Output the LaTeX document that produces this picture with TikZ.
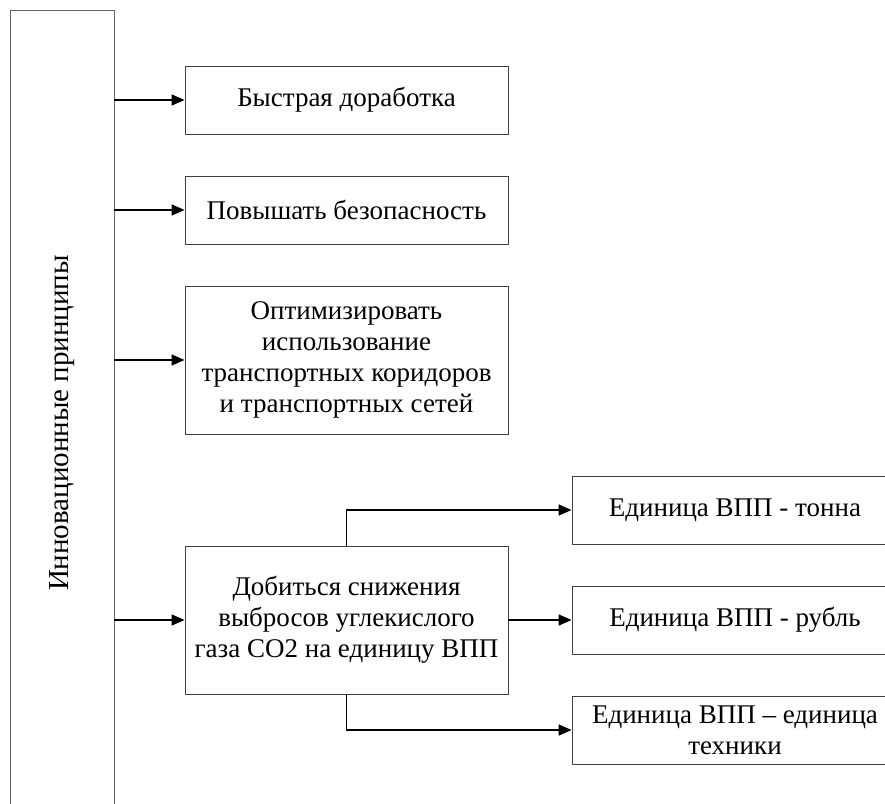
\documentclass[tikz,border=0pt]{standalone}
\usepackage{fontspec}
\setmainfont{Liberation Serif}
\usetikzlibrary{arrows.meta,positioning}

\begin{document}
\begin{tikzpicture}[
          % Environment Config
          x=1pt, y=-1pt,
          font=\fontsize{27}{31}\selectfont,
          MyArrow/.style={% Style for the connectors
            -{Triangle[length=13pt,width=11pt]},
            black,
            line width=1.5pt
          },
          Box/.style={% Style for the principle boxes
            draw=black!75,
            line width=0.9pt,
            rectangle,
            align=center,
            minimum width=323pt,
            minimum height=68pt,
            inner sep=0pt
          },
          RBox/.style={% Style for the unit boxes
            Box,
            minimum width=326pt
          }
        ]

        % Fix the picture size
        \clip (0,0) rectangle (885,803);

        % Principles column
        \node[draw=black!60, line width=0.9pt, minimum width=826pt, minimum height=104pt,
              inner sep=0pt, rotate=90, font=\fontsize{29}{33}\selectfont]
              (prin) at (62,423) {Инновационные принципы};

        % Principle boxes
        \node[Box] (b1) at (346.5,100) {Быстрая доработка};
        \node[Box] (b2) at (346.5,210) {Повышать безопасность};
        \node[Box, minimum height=148pt] (b3) at (346.5,360)
            {Оптимизировать\\использование\\транспортных коридоров\\и транспортных сетей};
        \node[Box, minimum height=148pt] (b4) at (346.5,620)
            {Добиться снижения\\выбросов углекислого\\газа СО2 на единицу ВПП};

        % Unit boxes
        \node[RBox] (r1) at (735,510) {Единица ВПП - тонна};
        \node[RBox] (r2) at (735,620) {Единица ВПП - рубль};
        \node[RBox] (r3) at (735,730) {Единица ВПП – единица\\техники};

        % Draw the connectors
        \draw[MyArrow] (b1.west -| prin.south) -- (b1.west);
        \draw[MyArrow] (b2.west -| prin.south) -- (b2.west);
        \draw[MyArrow] (b3.west -| prin.south) -- (b3.west);
        \draw[MyArrow] (b4.west -| prin.south) -- (b4.west);

        \draw[MyArrow] (b4.north) |- (r1.west);
        \draw[MyArrow] (b4.east) -- (r2.west);
        \draw[MyArrow] (b4.south) |- (r3.west);

\end{tikzpicture}
\end{document}
